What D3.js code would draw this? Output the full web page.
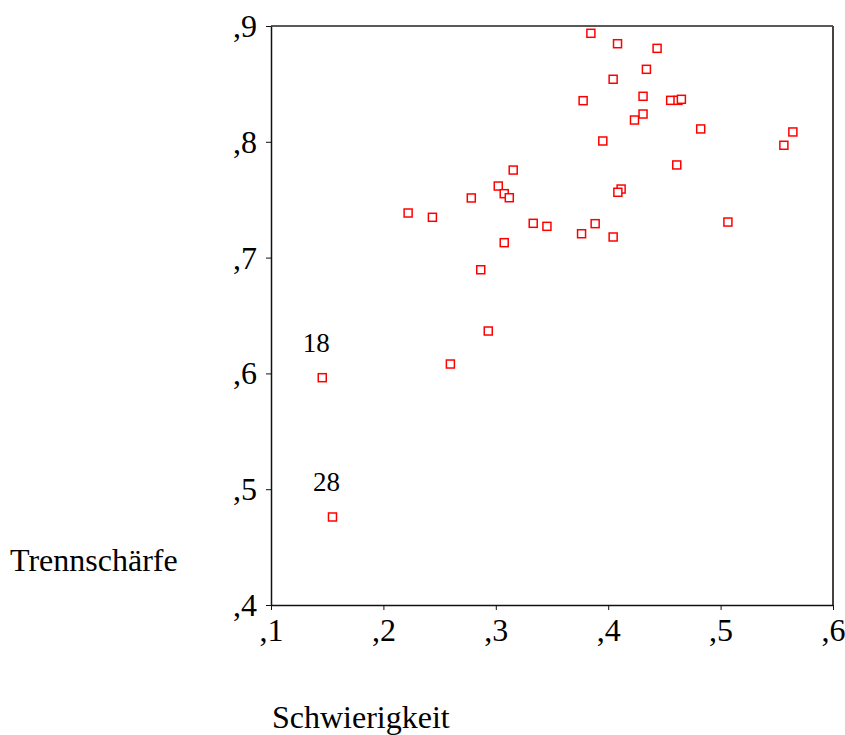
<!DOCTYPE html>
<html>
<head>
<meta charset="utf-8">
<script src="https://cdn.jsdelivr.net/npm/d3@7"></script>
<style>
  body { margin: 0; background: #fff; }
  svg { display: block; }
  text { font-family: "Liberation Serif", "Times New Roman", serif; fill: #000; }
</style>
</head>
<body>
<div id="chart"></div>
<script>
// Schwierigkeit (x) vs. Trennschärfe (y), one entry per item
const schwierigkeit = [
  0.3846, 0.4083, 0.4435, 0.4340, 0.4044, 0.3777, 0.4310, 0.4556, 0.4621, 0.4651,
  0.4310, 0.4234, 0.4823, 0.5643, 0.5563, 0.3952, 0.4610, 0.3155, 0.4115, 0.4086,
  0.3022, 0.3075, 0.3120, 0.2782, 0.2220, 0.2436, 0.3333, 0.3455, 0.3763, 0.3884,
  0.4044, 0.5065, 0.3075, 0.2866, 0.2933, 0.2596, 0.1456, 0.1547
];
const trennschaerfe = [
  0.8937, 0.8847, 0.8807, 0.8626, 0.8540, 0.8355, 0.8393, 0.8358, 0.8358, 0.8367,
  0.8240, 0.8188, 0.8111, 0.8085, 0.7970, 0.8007, 0.7800, 0.7756, 0.7592, 0.7564,
  0.7618, 0.7552, 0.7517, 0.7515, 0.7385, 0.7348, 0.7296, 0.7270, 0.7206, 0.7293,
  0.7178, 0.7307, 0.7129, 0.6895, 0.6366, 0.6081, 0.5963, 0.4760
];
// labelled outliers (index into the arrays above -> label)
const pointLabels = [
  { index: 36, label: '18' },
  { index: 37, label: '28' }
];
const xTicks = [0.1, 0.2, 0.3, 0.4, 0.5, 0.6];
const yTicks = [0.4, 0.5, 0.6, 0.7, 0.8, 0.9];

const width = 845, height = 735;
const plot = { left: 271, right: 833, top: 26, bottom: 605 };

const svg = d3.select('#chart').append('svg')
  .attr('width', width)
  .attr('height', height);

const x = d3.scaleLinear().domain([0.1, 0.6]).range([plot.left, plot.right]);
const y = d3.scaleLinear().domain([0.4, 0.9]).range([plot.bottom, plot.top]);

// SPSS style: ",5" instead of "0.5"
const fmt = d => ',' + Math.round(d * 10);

// frame (top + right)
svg.append('line')
  .attr('x1', plot.left).attr('x2', plot.right)
  .attr('y1', plot.top).attr('y2', plot.top)
  .attr('stroke', '#222').attr('stroke-width', 1.5);
svg.append('line')
  .attr('x1', plot.right).attr('x2', plot.right)
  .attr('y1', plot.top).attr('y2', plot.bottom)
  .attr('stroke', '#444').attr('stroke-width', 2);

// axes
const xAxis = svg.append('g')
  .attr('transform', `translate(0,${plot.bottom})`)
  .call(d3.axisBottom(x).tickValues(xTicks).tickFormat(fmt).tickSize(5).tickSizeOuter(0));
const yAxis = svg.append('g')
  .attr('transform', `translate(${plot.left},0)`)
  .call(d3.axisLeft(y).tickValues(yTicks).tickFormat(fmt).tickSize(5).tickSizeOuter(0));

[xAxis, yAxis].forEach(g => {
  g.select('.domain').attr('stroke', '#111').attr('stroke-width', 1.5);
  g.selectAll('.tick line').attr('stroke', '#111').attr('stroke-width', 1);
  g.selectAll('.tick text')
    .attr('font-family', '"Liberation Serif", "Times New Roman", serif')
    .attr('font-size', 32)
    .attr('fill', '#000');
});
xAxis.selectAll('.tick text').attr('y', 13);
yAxis.selectAll('.tick text').attr('x', -14).attr('dy', '0.33em');

// axis titles
svg.append('text')
  .attr('x', 10)
  .attr('y', 571)
  .attr('font-size', 32)
  .text('Trennschärfe');

svg.append('text')
  .attr('x', 272)
  .attr('y', 728)
  .attr('font-size', 32)
  .text('Schwierigkeit');

// points
const points = schwierigkeit.map((v, i) => ({ sx: v, ty: trennschaerfe[i] }));
const size = 8;
svg.append('g')
  .selectAll('rect')
  .data(points)
  .join('rect')
  .attr('x', d => x(d.sx) - size / 2)
  .attr('y', d => y(d.ty) - size / 2)
  .attr('width', size)
  .attr('height', size)
  .attr('fill', '#fff')
  .attr('stroke', '#ff0000')
  .attr('stroke-width', 1.5);

// outlier labels
svg.append('g')
  .selectAll('text')
  .data(pointLabels)
  .join('text')
  .attr('x', d => x(schwierigkeit[d.index]) - 6)
  .attr('y', d => y(trennschaerfe[d.index]) - 26)
  .attr('text-anchor', 'middle')
  .attr('font-size', 27)
  .text(d => d.label);
</script>
</body>
</html>
